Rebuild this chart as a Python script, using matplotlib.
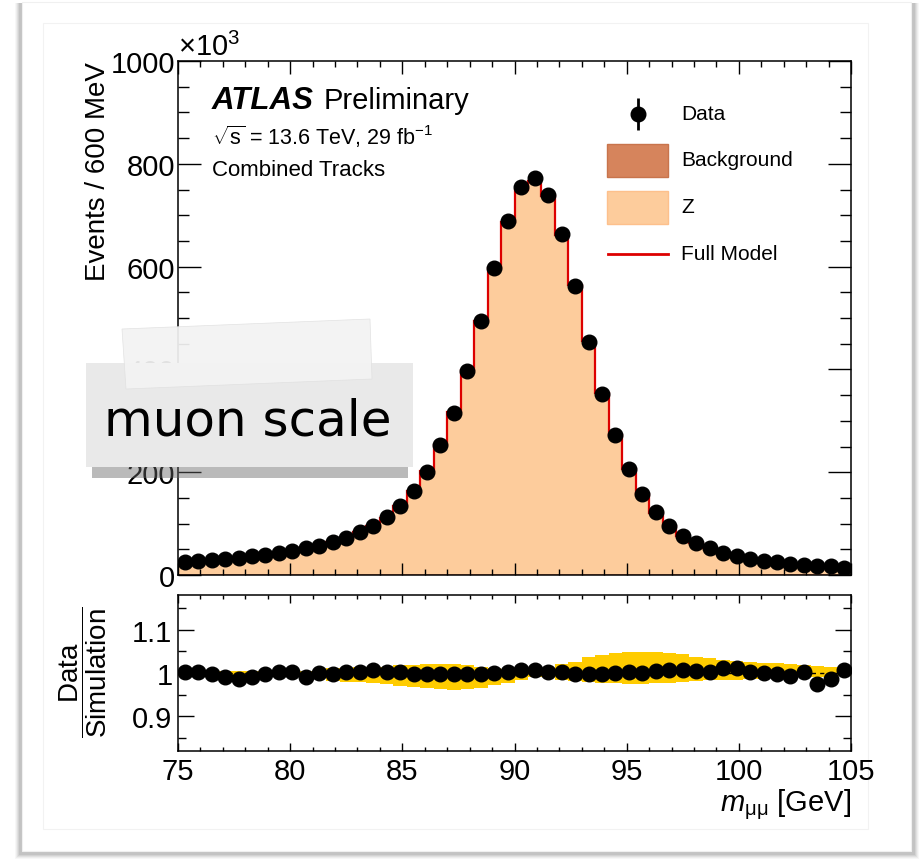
import numpy as np
import matplotlib
matplotlib.use("Agg")
import matplotlib.pyplot as plt
from matplotlib.patches import Rectangle, Polygon
from matplotlib.ticker import MultipleLocator

plt.rcParams['font.family'] = ['Liberation Sans', 'DejaVu Sans']
plt.rcParams['mathtext.fontset'] = 'custom'
plt.rcParams['mathtext.rm'] = 'Liberation Sans'
plt.rcParams['mathtext.it'] = 'Liberation Sans:italic'
plt.rcParams['mathtext.bf'] = 'Liberation Sans:bold'

# ---------------- data ----------------
bin_lo, bin_hi, n_bins = 75.0, 105.0, 50
data_k = [24.7, 26.6, 29.0, 31.0, 33.7, 36.0, 39.5, 42.8, 47.0, 52.0,
          57.0, 63.6, 72.6, 83.0, 96.0, 112.0, 134.0, 163.0, 201.0, 252.0,
          316.0, 397.0, 494.0, 597.0, 689.0, 755.0, 772.0, 739.0, 663.0, 563.0,
          454.0, 353.0, 272.0, 207.0, 158.0, 122.0, 96.0, 76.5, 61.6, 52.0,
          42.8, 36.4, 31.0, 27.0, 24.6, 21.4, 20.0, 18.0, 16.9, 14.2]
ratio = [1.0015, 1.0015, 0.998, 0.990, 0.986, 0.990, 0.998, 1.0015, 1.0015, 0.990,
         0.9995, 0.998, 1.0015, 1.003, 1.0077, 1.003, 1.0015, 0.998, 0.9975, 0.9975,
         0.9975, 0.9975, 0.998, 1.0, 1.003, 1.0077, 1.0077, 1.003, 1.0015, 0.998,
         0.998, 0.9975, 1.0, 1.0015, 0.9995, 1.0046, 1.0077, 1.006, 1.0046, 1.003,
         1.0107, 1.0107, 1.003, 0.9995, 0.998, 0.994, 1.0015, 0.974, 0.986, 1.0077]
background_k = [2.0, 2.0, 1.9, 1.9, 1.8, 1.8, 1.8, 1.7, 1.7, 1.7,
                1.6, 1.6, 1.6, 1.6, 1.5, 1.5, 1.5, 1.5, 1.5, 1.5,
                1.5, 1.5, 1.5, 1.5, 1.5, 1.5, 1.5, 1.5, 1.5, 1.5,
                1.4, 1.4, 1.4, 1.4, 1.4, 1.4, 1.3, 1.3, 1.3, 1.3,
                1.3, 1.3, 1.2, 1.2, 1.2, 1.2, 1.2, 1.1, 1.1, 1.1]
band_lo = [0.992, 0.992, 0.992, 0.992, 0.992, 0.992, 0.992, 0.992, 0.992, 0.992,
           0.988, 0.982, 0.980, 0.980, 0.978, 0.975, 0.970, 0.967, 0.965, 0.962,
           0.960, 0.962, 0.966, 0.972, 0.978, 0.985, 0.990, 0.990, 0.985, 0.982,
           0.980, 0.978, 0.976, 0.975, 0.975, 0.976, 0.977, 0.979, 0.981, 0.983,
           0.984, 0.985, 0.986, 0.987, 0.988, 0.989, 0.990, 0.990, 0.991, 0.992]
band_hi = [1.004, 1.004, 1.004, 1.004, 1.004, 1.004, 1.004, 1.004, 1.004, 1.004,
           1.008, 1.012, 1.012, 1.013, 1.014, 1.015, 1.018, 1.019, 1.020, 1.020,
           1.020, 1.018, 1.015, 1.012, 1.010, 1.008, 1.010, 1.012, 1.020, 1.025,
           1.038, 1.042, 1.046, 1.048, 1.049, 1.048, 1.046, 1.043, 1.038, 1.034,
           1.030, 1.028, 1.026, 1.024, 1.022, 1.020, 1.018, 1.016, 1.015, 1.014]

edges = np.linspace(bin_lo, bin_hi, n_bins + 1)
centers = 0.5 * (edges[:-1] + edges[1:])
data_arr = np.array(data_k)
model = data_arr / np.array(ratio)
bkg = np.array(background_k)

# ---------------- figure ----------------
W, H = 919, 862
fig = plt.figure(figsize=(W / 100, H / 100), dpi=100)

def fx(px):
    return px / W

def fy(py):
    return 1 - py / H

# card + soft shadow
for k, a in enumerate([0.03, 0.04, 0.05, 0.06, 0.07]):
    fig.patches.append(Rectangle((fx(15 + k), fy(860 - k)), fx(904 - 2 * k), fy(4) - fy(860 - k),
                                 transform=fig.transFigure, color='black', alpha=a, lw=0, zorder=-3))
fig.patches.append(Rectangle((fx(22), fy(852)), fx(889), fy(3) - fy(852),
                             transform=fig.transFigure, facecolor='white', edgecolor='#f0f0f0', lw=0.8, zorder=-2))
fig.patches.append(Rectangle((fx(43), fy(830)), fx(868 - 43), fy(24) - fy(830),
                             transform=fig.transFigure, facecolor='none', edgecolor='#f2f2f2', lw=0.8, zorder=-1))

ax = fig.add_axes([fx(178), fy(576), fx(851 - 178), fy(62) - fy(576)])
axr = fig.add_axes([fx(178), fy(752), fx(851 - 178), fy(596) - fy(752)])
ax.set_zorder(2)
axr.set_zorder(2)

col_z = '#fdcc9c'
col_bkg = '#d6845c'
col_red = '#dd0000'

# stacked histogram
ax.stairs(bkg, edges, baseline=0, fill=True, facecolor=col_bkg, edgecolor='none', zorder=1)
ax.stairs(model, edges, baseline=bkg, fill=True, facecolor=col_z, edgecolor='none', zorder=1)
ax.stairs(model, edges, baseline=None, color=col_red, lw=1.6, zorder=2)
ax.plot(centers, data_arr, 'o', color='black', ms=10.5, zorder=3)

ax.set_xlim(bin_lo, bin_hi)
ax.set_ylim(0, 1000)
ax.yaxis.set_major_locator(MultipleLocator(200))
ax.yaxis.set_minor_locator(MultipleLocator(50))
ax.xaxis.set_major_locator(MultipleLocator(5))
ax.xaxis.set_minor_locator(MultipleLocator(1))
ax.tick_params(axis='both', which='both', direction='in', top=True, right=True)
ax.tick_params(axis='y', which='major', length=16.5, width=1.0, labelsize=21, pad=2)
ax.tick_params(axis='y', which='minor', length=8, width=1.0)
ax.tick_params(axis='x', which='major', length=9, width=1.0, labelbottom=False)
ax.tick_params(axis='x', which='minor', length=4.5, width=1.0)
for s in ax.spines.values():
    s.set_linewidth(1.1)
ax.set_ylabel('Events / 600 MeV', fontsize=20, loc='top', labelpad=0)
ax.text(0.0, 1.0, r'$\times$10$^{3}$', transform=ax.transAxes, fontsize=21, ha='left', va='bottom')


def axx(px):
    return (px - 178) / (851 - 178)


def ay(py):
    return (576 - py) / (576 - 62)


# ATLAS labels
ax.text(axx(212), ay(101), 'ATLAS', transform=ax.transAxes, fontsize=22.5, fontweight='bold',
        fontstyle='italic', ha='left', va='center')
ax.text(axx(324), ay(101), 'Preliminary', transform=ax.transAxes, fontsize=21,
        ha='left', va='center')
ax.text(axx(212), ay(137), r'$\sqrt{\mathrm{s}}$ = 13.6 TeV, 29 fb$^{-1}$', transform=ax.transAxes,
        fontsize=15.5, ha='left', va='center')
ax.text(axx(212), ay(171), 'Combined Tracks', transform=ax.transAxes, fontsize=16, ha='left', va='center')

# legend (manual)
ax.errorbar([axx(638)], [ay(115)], yerr=[[0.032], [0.032]], fmt='o', color='black', ms=10.5,
            elinewidth=2, capsize=0, transform=ax.transAxes, clip_on=False, zorder=5)
ax.add_patch(Rectangle((axx(607), ay(178)), axx(668) - axx(607), ay(145) - ay(178),
                       transform=ax.transAxes, facecolor=col_bkg, edgecolor='#c8744c', lw=1, zorder=5))
ax.add_patch(Rectangle((axx(607), ay(225)), axx(668) - axx(607), ay(192) - ay(225),
                       transform=ax.transAxes, facecolor=col_z, edgecolor='#fdc08c', lw=1, zorder=5))
ax.plot([axx(608), axx(668)], [ay(255), ay(255)], color=col_red, lw=2, transform=ax.transAxes, zorder=5)
for label, py in [('Data', 115), ('Background', 161), ('Z', 208), ('Full Model', 255)]:
    ax.text(axx(681), ay(py), label, transform=ax.transAxes, fontsize=15, ha='left', va='center')

# ratio panel
axr.stairs(band_hi, edges, baseline=band_lo, fill=True, facecolor='#ffcc00', edgecolor='none', zorder=1)
axr.axhline(1.0, color='black', lw=1.0, ls=(0, (3, 3)), zorder=2)
axr.plot(centers, ratio, 'o', color='black', ms=10.5, zorder=3)
axr.set_xlim(bin_lo, bin_hi)
axr.set_ylim(0.82, 1.18)
axr.yaxis.set_minor_locator(MultipleLocator(0.05))
axr.xaxis.set_major_locator(MultipleLocator(5))
axr.xaxis.set_minor_locator(MultipleLocator(1))
axr.set_yticks([0.9, 1.0, 1.1])
axr.set_yticklabels(['0.9', '1', '1.1'])
axr.tick_params(axis='both', which='both', direction='in', top=True, right=True)
axr.tick_params(axis='y', which='major', length=11.5, width=1.0, labelsize=21, pad=4)
axr.tick_params(axis='y', which='minor', length=6, width=1.0)
axr.tick_params(axis='x', which='major', length=6, width=1.0, labelsize=21, pad=4)
axr.tick_params(axis='x', which='minor', length=3, width=1.0)
for s in axr.spines.values():
    s.set_linewidth(1.1)
fig.text(fx(83), fy(672), r'$\dfrac{\mathrm{Data}}{\mathrm{Simulation}}$', rotation=90,
         fontsize=20, ha='center', va='center')
fig.text(fx(851), fy(805), r'$m_{\mathrm{\mu\mu}}$ [GeV]', fontsize=21, ha='right', va='center')

# sticker overlay
fig.patches.append(Rectangle((fx(92), fy(479)), fx(316), fy(466) - fy(479), transform=fig.transFigure,
                             facecolor='#666666', alpha=0.45, lw=0, zorder=10))
fig.patches.append(Rectangle((fx(86), fy(468)), fx(327), fy(364) - fy(468), transform=fig.transFigure,
                             facecolor='#e9e9e9', edgecolor='none', zorder=11))
fig.patches.append(Polygon([(fx(122), fy(330)), (fx(370), fy(320)), (fx(372), fy(380)), (fx(126), fy(390))],
                           closed=True, transform=fig.transFigure, facecolor='#f3f3f3', alpha=0.93,
                           edgecolor='#e0e0e0', lw=0.5, zorder=12))
fig.text(fx(248), fy(422), 'muon scale', fontsize=36, ha='center', va='center', zorder=13,
         family=['DejaVu Sans'])

fig.savefig('out.png', dpi=100)
